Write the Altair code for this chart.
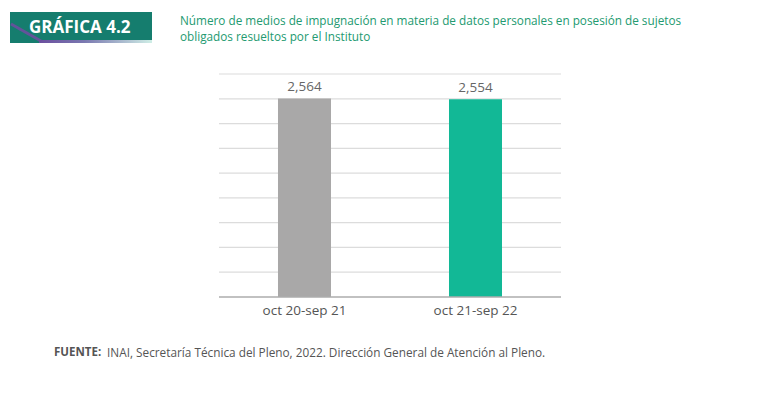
import altair as alt
import pandas as pd

categories = ["oct 20-sep 21", "oct 21-sep 22"]
values = [2564, 2554]
colors = ["#a9a8a8", "#12b896"]
grid_values = [320, 640, 960, 1280, 1600, 1920, 2240, 2560, 2880]

title_lines = [
    "Número de medios de impugnación en materia de datos personales en posesión de sujetos",
    "obligados resueltos por el Instituto",
]
header_label = "GRÁFICA 4.2"
source_bold = "FUENTE:"
source_text = "INAI, Secretaría Técnica del Pleno, 2022. Dirección General de Atención al Pleno."

FONT = "Open Sans"

df = pd.DataFrame({"cat": categories, "val": values, "color": colors})
grid_df = pd.DataFrame({"g": grid_values})
one = pd.DataFrame({"a": [0]})

yscale = alt.Scale(domain=[0, 2880], nice=False)

x_enc = alt.X(
    "cat:N",
    sort=categories,
    scale=alt.Scale(paddingInner=0.69, paddingOuter=0.345),
    axis=alt.Axis(
        title=None, ticks=False, domain=False, labelAngle=0, grid=False,
        labelFontSize=13.5, labelColor="#555555", labelFont=FONT, labelPadding=6,
    ),
)

grid = alt.Chart(grid_df).mark_rule(color="#dcdcdc", strokeWidth=1.2).encode(
    y=alt.Y("g:Q", scale=yscale, axis=None), x=alt.value(0), x2=alt.value(342)
)
bars = alt.Chart(df).mark_bar().encode(
    x=x_enc,
    y=alt.Y("val:Q", scale=yscale, axis=None),
    color=alt.Color("color:N", scale=None),
)
labels = alt.Chart(df).mark_text(
    dy=-11, fontSize=13.5, color="#666666", font=FONT
).encode(
    x=alt.X("cat:N", sort=categories),
    y=alt.Y("val:Q", scale=yscale, axis=None),
    text=alt.Text("val:Q", format=",d"),
)
baseline = alt.Chart(one).mark_rule(color="#adadad", strokeWidth=1.5).encode(
    x=alt.value(0), x2=alt.value(342), y=alt.value(223)
)

# header badge
badge = alt.Chart(one).mark_rect(color="#157d6e").encode(
    x=alt.value(-209), x2=alt.value(-67), y=alt.value(-62), y2=alt.value(-31)
)
stripe_grad = alt.Chart(one).mark_rect(
    color=alt.Gradient(
        gradient="linear",
        stops=[alt.GradientStop(color="#6b4f9e", offset=0),
               alt.GradientStop(color="#7a78b0", offset=0.4),
               alt.GradientStop(color="#cfeee6", offset=1)],
        x1=0, x2=1, y1=0, y2=0,
    )
).encode(x=alt.value(-180), x2=alt.value(-67), y=alt.value(-34), y2=alt.value(-31))
stripe = alt.Chart(one).mark_rule(color="#6b4f9e", strokeWidth=3, opacity=0.9).encode(
    x=alt.value(-208), x2=alt.value(-178), y=alt.value(-50), y2=alt.value(-33)
)
badge_text = alt.Chart(one).mark_text(
    align="left", baseline="middle", fontSize=17, fontWeight="bold", color="white", font=FONT
).encode(x=alt.value(-190), y=alt.value(-46), text=alt.value(header_label))

title1 = alt.Chart(one).mark_text(
    align="left", baseline="middle", fontSize=11.75, color="#239a70", font=FONT
).encode(x=alt.value(-39), y=alt.value(-53), text=alt.value(title_lines[0]))
title2 = alt.Chart(one).mark_text(
    align="left", baseline="middle", fontSize=11.75, color="#239a70", font=FONT
).encode(x=alt.value(-39), y=alt.value(-37), text=alt.value(title_lines[1]))

src1 = alt.Chart(one).mark_text(
    align="left", baseline="middle", fontSize=11.5, fontWeight="bold", color="#555555", font=FONT
).encode(x=alt.value(-165), y=alt.value(279), text=alt.value(source_bold))
src2 = alt.Chart(one).mark_text(
    align="left", baseline="middle", fontSize=11.8, color="#555555", font=FONT
).encode(x=alt.value(-112), y=alt.value(279), text=alt.value(source_text))

chart = alt.layer(
    grid, bars, labels, baseline, badge, stripe_grad, stripe, badge_text,
    title1, title2, src1, src2
).properties(
    width=342, height=223,
    background="white",
    autosize=alt.AutoSizeParams(type="none"),
    padding={"left": 211, "top": 66, "right": 199, "bottom": 91},
).configure_view(strokeWidth=0, stroke="transparent")

chart.save("out.html", embed_options={"renderer": "svg", "actions": False})
